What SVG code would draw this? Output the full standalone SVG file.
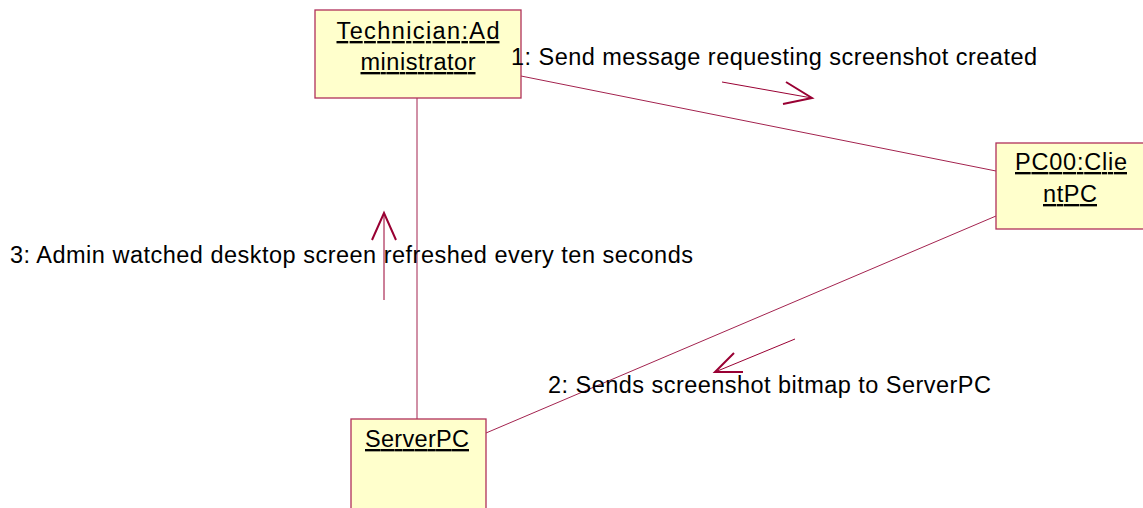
<svg xmlns="http://www.w3.org/2000/svg" width="1143" height="508" viewBox="0 0 1143 508">
<style>
.box{fill:#FFFFCC;stroke:#B0305A;stroke-width:1.3}
.lbl{font-family:"Liberation Sans",Arial,sans-serif;font-size:23.5px;fill:#000;text-anchor:middle;text-decoration:underline}
.msg{font-family:"Liberation Sans",Arial,sans-serif;font-size:23.5px;fill:#000}
.link{stroke:#A3234F;stroke-width:1;fill:none}
.arr{stroke:#990033;stroke-width:1;fill:none}
.head{stroke:#990033;stroke-width:2;fill:none}
</style>
<rect width="1143" height="508" fill="#fff"/>
<g id="connectors">
<line class="link" x1="417" y1="98" x2="417" y2="419"/>
<line class="link" x1="521" y1="76" x2="996" y2="171"/>
<line class="link" x1="996" y1="216" x2="486" y2="433"/>
</g>
<g id="node-technician">
<rect class="box" x="315" y="10" width="206" height="88"/>
<text class="lbl" x="418" y="39" textLength="163" lengthAdjust="spacing">Technician:Ad</text>
<text class="lbl" x="418" y="70" textLength="115" lengthAdjust="spacing">ministrator</text>
</g>
<g id="node-client">
<rect class="box" x="996" y="143" width="150" height="86"/>
<text class="lbl" x="1071" y="170" textLength="112" lengthAdjust="spacing">PC00:Clie</text>
<text class="lbl" x="1070" y="202" textLength="54" lengthAdjust="spacing">ntPC</text>
</g>
<g id="node-server">
<rect class="box" x="351" y="419" width="135" height="100"/>
<text class="lbl" x="417" y="447" textLength="104" lengthAdjust="spacing">ServerPC</text>
</g>
<g id="messages">
<line class="arr" x1="722" y1="82" x2="812" y2="98"/>
<polyline class="head" points="786,82 812,98 783,104"/>
<text class="msg" x="511" y="65" textLength="526" lengthAdjust="spacing">1: Send message requesting screenshot created</text>
<line class="arr" x1="795" y1="339" x2="715" y2="372"/>
<polyline class="head" points="734,353 715,372 743,372"/>
<text class="msg" x="548" y="393" textLength="443" lengthAdjust="spacing">2: Sends screenshot bitmap to ServerPC</text>
<line class="arr" x1="384" y1="300" x2="384" y2="213"/>
<polyline class="head" points="372,240 384,213 396,240"/>
<text class="msg" x="10" y="263" textLength="683" lengthAdjust="spacing">3: Admin watched desktop screen refreshed every ten seconds</text>
</g>
</svg>
